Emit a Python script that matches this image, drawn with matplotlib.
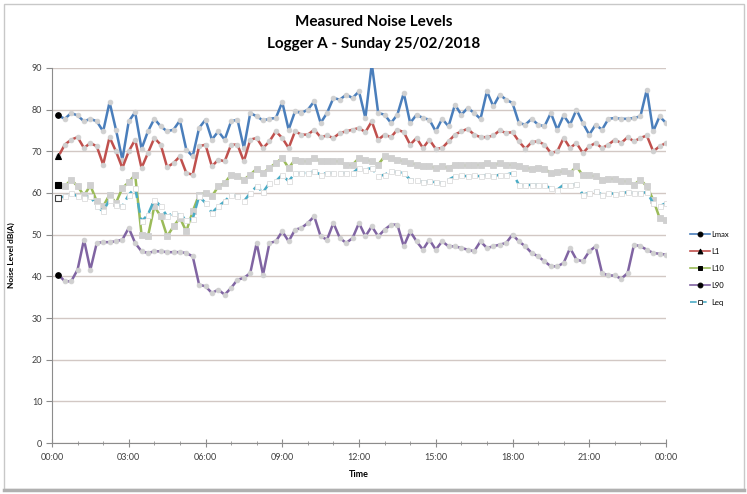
import numpy as np
import matplotlib
matplotlib.use("Agg")
from matplotlib import pyplot as plt
from matplotlib.lines import Line2D
from matplotlib.patches import Rectangle

plt.rcParams["font.family"] = ["Lato", "DejaVu Sans"]

# 15 minute logging interval, first reading at 00:15
time_hours = np.arange(1, 97) * 0.25

lmax = [78.6, 77.8, 79.2, 78.6, 77.2, 77.8, 77.2, 74.8, 81.8, 75.2, 68.0, 77.2, 79.4, 70.6, 74.8, 77.8, 76.0, 74.8, 75.2, 77.4, 70.4, 68.8, 75.6, 77.6,
        72.8, 74.8, 72.8, 77.2, 77.6, 70.8, 79.2, 78.4, 77.4, 77.8, 78.0, 81.8, 75.2, 79.6, 79.2, 80.0, 82.0, 76.8, 79.2, 82.8, 82.4, 83.6, 82.8, 84.4,
        78.0, 91.0, 79.2, 78.8, 76.8, 78.8, 84.0, 76.8, 78.8, 78.0, 77.6, 74.8, 77.8, 76.0, 81.2, 78.8, 80.4, 79.2, 77.8, 84.4, 80.8, 83.6, 82.4, 81.6,
        76.8, 76.4, 77.8, 76.4, 76.0, 79.2, 75.2, 78.6, 76.4, 80.0, 76.8, 74.0, 76.4, 75.2, 77.8, 78.0, 77.8, 77.8, 78.0, 78.4, 84.8, 74.8, 78.4, 76.8]

l1 = [68.8, 71.6, 72.8, 73.4, 70.8, 72.0, 71.2, 66.8, 73.4, 70.0, 66.0, 70.0, 72.8, 66.0, 69.6, 73.2, 71.6, 66.2, 67.2, 68.8, 64.8, 64.4, 71.2, 71.6,
      66.4, 68.0, 67.6, 71.6, 71.6, 67.6, 72.8, 73.2, 70.8, 72.4, 74.8, 73.2, 70.8, 74.8, 74.0, 74.0, 75.2, 73.4, 73.8, 73.2, 74.4, 74.8, 75.2, 75.6,
      74.6, 77.2, 72.8, 74.0, 73.4, 75.2, 74.6, 71.6, 73.2, 70.8, 72.8, 70.6, 70.8, 72.4, 74.0, 74.8, 75.4, 74.0, 73.4, 73.4, 73.8, 75.0, 74.4, 74.6,
      72.4, 70.6, 72.2, 72.4, 71.6, 69.6, 70.0, 73.2, 70.8, 72.0, 69.6, 71.2, 72.0, 70.8, 71.6, 72.8, 72.0, 73.4, 72.4, 73.2, 73.8, 70.0, 71.2, 72.0]

l10 = [61.8, 61.6, 63.2, 61.6, 59.4, 61.8, 58.0, 56.8, 59.6, 57.6, 61.2, 62.6, 64.4, 50.0, 49.6, 56.8, 54.4, 49.6, 52.0, 54.0, 50.8, 55.6, 59.6, 60.0,
       59.2, 61.6, 62.4, 64.4, 64.0, 63.2, 64.4, 65.8, 64.8, 66.0, 67.2, 68.4, 66.0, 68.0, 67.6, 67.6, 68.4, 67.6, 67.6, 67.6, 67.6, 66.6, 66.8, 68.4,
       68.0, 67.6, 66.8, 68.8, 68.4, 68.0, 67.6, 67.2, 66.8, 66.4, 66.4, 66.0, 66.4, 66.0, 66.8, 66.6, 66.6, 66.6, 66.8, 67.2, 66.6, 67.2, 66.6, 66.8,
       66.4, 66.0, 65.8, 66.0, 65.8, 64.8, 65.0, 65.2, 64.8, 66.4, 64.2, 64.2, 64.0, 63.2, 63.4, 63.4, 62.8, 62.8, 62.0, 63.2, 61.6, 58.4, 54.0, 53.6]

l90 = [40.4, 38.8, 38.8, 41.6, 48.8, 41.6, 48.0, 48.2, 48.2, 48.4, 48.8, 51.6, 48.0, 46.0, 45.6, 46.0, 46.0, 45.8, 45.8, 45.8, 45.6, 44.8, 38.0, 37.6,
       36.0, 36.8, 35.6, 37.2, 39.2, 39.6, 40.8, 48.0, 40.4, 48.0, 48.4, 50.8, 48.4, 51.2, 51.6, 52.8, 54.4, 49.6, 48.8, 52.8, 49.2, 48.0, 49.2, 52.8,
       49.6, 52.0, 49.6, 51.2, 52.4, 52.4, 47.2, 50.8, 48.4, 46.4, 48.8, 46.4, 48.4, 47.2, 47.2, 46.8, 46.4, 46.0, 48.4, 46.8, 47.2, 47.6, 48.0, 50.0,
       48.4, 47.2, 45.6, 44.8, 43.6, 42.4, 42.4, 43.2, 46.8, 44.0, 43.6, 46.0, 47.2, 40.8, 40.2, 40.2, 39.4, 40.8, 47.6, 47.2, 46.4, 45.6, 45.4, 45.2]

leq = [58.8, 59.2, 60.0, 59.2, 58.8, 59.2, 56.8, 55.6, 58.4, 57.2, 56.8, 59.6, 61.2, 53.2, 54.8, 58.4, 56.8, 54.4, 55.2, 54.8, 53.6, 53.8, 59.2, 57.6,
       55.2, 56.8, 58.0, 59.6, 59.2, 58.0, 60.0, 61.6, 60.2, 62.4, 62.8, 64.4, 62.8, 64.8, 64.8, 64.8, 65.2, 64.4, 64.8, 64.8, 64.8, 64.8, 64.8, 66.0,
       65.6, 66.0, 64.0, 64.4, 65.2, 65.0, 64.8, 63.2, 63.2, 62.6, 62.8, 62.6, 62.4, 63.2, 64.0, 64.2, 64.0, 64.2, 64.0, 64.4, 64.0, 64.4, 64.4, 64.8,
       62.0, 61.8, 62.0, 62.0, 61.8, 61.2, 60.8, 62.0, 61.8, 62.2, 59.6, 60.0, 60.4, 59.6, 60.0, 59.8, 60.0, 60.2, 60.0, 60.0, 60.2, 57.6, 56.8, 57.6]

tick_labels = ["00:00", "03:00", "06:00", "09:00", "12:00", "15:00", "18:00", "21:00", "00:00"]

fig = plt.figure(figsize=(7.47, 4.94), dpi=100)
ax = fig.add_axes([52 / 747, 1 - 443 / 494, 614 / 747, 375 / 494])

grey = "#d0d0d0"
# name, values, line colour, linestyle, marker, size, marker face, marker edge, first marker, first face, first edge
series = [
    ("Lmax", lmax, "#4a7ebb", "-", "o", 3.4, grey, grey, "o", "black", "black"),
    ("L1", l1, "#c0504d", "-", "o", 3.4, grey, grey, "^", "black", "black"),
    ("L10", l10, "#9bbb59", "-", "s", 4.2, grey, grey, "s", "black", "black"),
    ("L90", l90, "#8064a2", "-", "o", 3.4, grey, grey, "o", "black", "black"),
    ("Leq", leq, "#4bacc6", (0, (4, 2)), "s", 3.6, "white", "#dddddd", "s", "white", "#404040"),
]

handles = []
for name, vals, col, ls, mk, ms, mfc, mec, fmk, ffc, fec in series:
    ax.plot(time_hours, vals, color=col, lw=1.8, ls=ls, marker=mk, ms=ms,
            mfc=mfc, mec=mec, mew=0.6, clip_on=True)
    ax.plot(time_hours[0], vals[0], ls="none", marker=fmk, ms=4, mfc=ffc, mec=fec, mew=0.8)
    handles.append(Line2D([], [], color=col, lw=1.2, ls=ls, marker=fmk, ms=3.5,
                          mfc=ffc, mec=fec, mew=0.7, label=name))

ax.set_xlim(0, 24)
ax.set_ylim(0, 90)
ax.set_yticks(range(0, 91, 10))
ax.set_xticks(range(0, 25, 3))
ax.set_xticks(range(0, 25), minor=True)
ax.set_xticklabels(tick_labels)
ax.grid(True, axis="y", color="#d2c8c4", lw=1)
ax.set_axisbelow(True)

for s in ["top", "right"]:
    ax.spines[s].set_visible(False)
for s in ["left", "bottom"]:
    ax.spines[s].set_color("#8c8c8c")
    ax.spines[s].set_linewidth(0.8)

ax.tick_params(axis="y", direction="out", length=4, color="#8c8c8c", labelsize=6.5,
               labelcolor="#404040", pad=3)
ax.tick_params(axis="x", which="major", direction="inout", length=6, color="#8c8c8c",
               labelsize=6.5, labelcolor="#404040", pad=4)
ax.tick_params(axis="x", which="minor", direction="inout", length=3, color="#8c8c8c")

ax.set_xlabel("Time", fontsize=6.5, fontweight="bold", labelpad=6)
ax.set_ylabel("Noise Level dB(A)", fontsize=6, fontweight="bold", labelpad=12)

fig.text(0.5, 1 - 22 / 494, "Measured Noise Levels", ha="center", va="center",
         fontsize=11, fontweight="bold")
fig.text(0.5, 1 - 44 / 494, "Logger A - Sunday 25/02/2018", ha="center", va="center",
         fontsize=11, fontweight="bold")

fig.legend(handles=handles, loc="upper left", bbox_to_anchor=(687 / 747, 1 - 228 / 494),
           frameon=False, fontsize=5.5, handlelength=2.6, labelspacing=1.3,
           handletextpad=0.2, borderaxespad=0)

fig.patches.append(Rectangle((4 / 747, 5 / 494), 740 / 747, 485 / 494, transform=fig.transFigure,
                             fill=False, edgecolor="#c8c8c8", lw=1.0))
fig.lines.append(Line2D([4 / 747, 744 / 747], [4 / 494, 4 / 494], transform=fig.transFigure,
                        color="#b0b0b0", lw=2.5))

fig.savefig("out.png", dpi=100)
